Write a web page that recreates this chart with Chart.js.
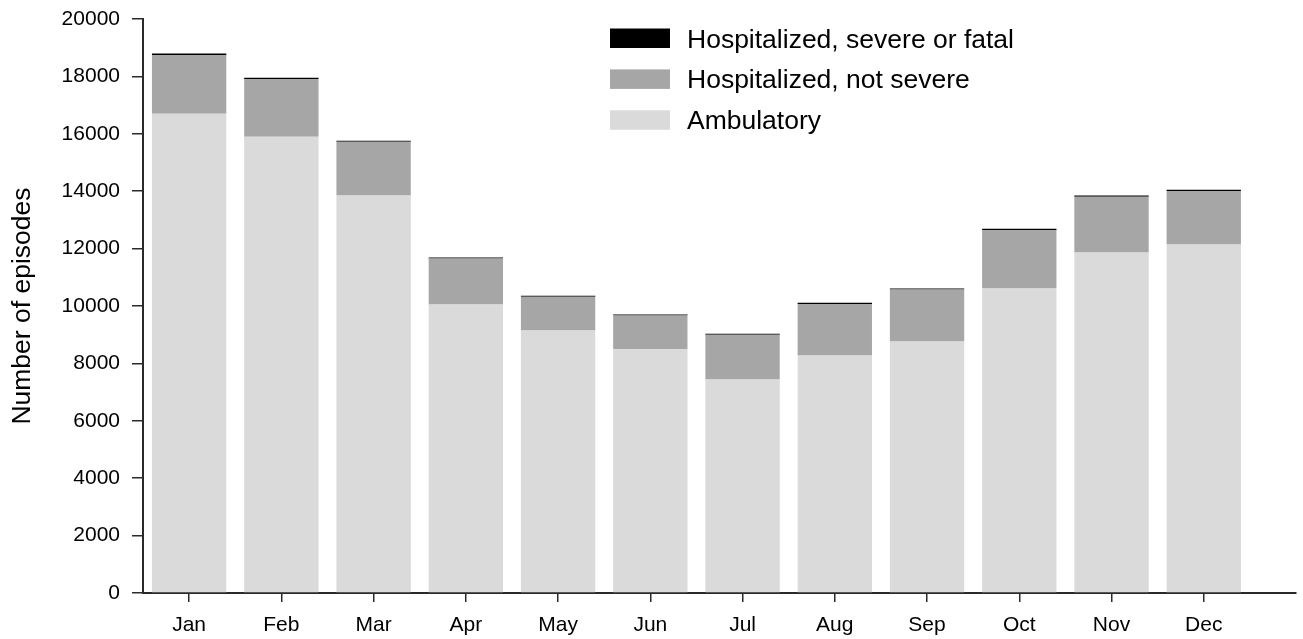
<!DOCTYPE html>
<html>
<head>
<meta charset="utf-8">
<title>Episodes by month</title>
<script src="https://cdn.jsdelivr.net/npm/chart.js@4.4.1/dist/chart.umd.min.js"></script>
<style>
  html, body { margin: 0; padding: 0; background: #fff; }
  #wrap { width: 1303px; height: 639px; }
</style>
</head>
<body>
<div id="wrap"><canvas id="chart" width="1303" height="639"></canvas></div>
<script>
// --- Data ---
const months = ['Jan', 'Feb', 'Mar', 'Apr', 'May', 'Jun', 'Jul', 'Aug', 'Sep', 'Oct', 'Nov', 'Dec'];
const ambulatory    = [16700, 15900, 13850, 10050, 9150, 8490, 7440, 8275, 8765, 10610, 11860, 12140];
const hospNotSevere = [2050, 2010, 1870, 1605, 1170, 1180, 1555, 1795, 1810, 2040, 1950, 1870];
const hospSevere    = [45, 40, 40, 35, 35, 30, 35, 40, 35, 40, 40, 40];
const yTicks = [0, 2000, 4000, 6000, 8000, 10000, 12000, 14000, 16000, 18000, 20000];

const FONT = '"Liberation Sans", Arial, Helvetica, sans-serif';
const AXIS_COLOR = '#2a2a2a';

// turn a plain list into {x, y} points on the linear month axis
function toPoints(values) {
    return values.map((v, i) => ({ x: i, y: v }));
}

// --- Legend drawn inside the plot, top right ---
const boxLegend = {
    id: 'boxLegend',
    afterDraw(chart) {
        const ctx = chart.ctx;
        const items = chart.data.datasets.slice().reverse(); // severe on top
        ctx.save();
        ctx.font = '26.5px ' + FONT;
        ctx.textBaseline = 'alphabetic';
        items.forEach((ds, i) => {
            const cy = 38 + i * 40.9;
            ctx.fillStyle = ds.backgroundColor;
            ctx.fillRect(610, cy - 9.5, 60, 19.5);
            ctx.fillStyle = '#000';
            ctx.fillText(ds.label, 687, cy + 9.5);
        });
        ctx.restore();
    }
};

document.addEventListener('DOMContentLoaded', () => {
    const ctx = document.getElementById('chart').getContext('2d');

    new Chart(ctx, {
        type: 'bar',
        data: {
            datasets: [
                { label: 'Ambulatory', data: toPoints(ambulatory), backgroundColor: '#dadada' },
                { label: 'Hospitalized, not severe', data: toPoints(hospNotSevere), backgroundColor: '#a6a6a6' },
                { label: 'Hospitalized, severe or fatal', data: toPoints(hospSevere), backgroundColor: '#000000' }
            ]
        },
        options: {
            responsive: false,
            animation: false,
            devicePixelRatio: 1,
            layout: { padding: { top: 19, right: 7, left: 0, bottom: 0 } },
            datasets: {
                bar: { categoryPercentage: 0.806, barPercentage: 1, borderWidth: 0 }
            },
            plugins: {
                legend: { display: false },
                tooltip: { enabled: false }
            },
            scales: {
                x: {
                    type: 'linear',
                    stacked: true,
                    offset: false,
                    min: -0.5,
                    max: 12,
                    afterBuildTicks: s => { s.ticks = months.map((m, i) => ({ value: i })); },
                    afterFit: s => { s.height = 46; },
                    border: { display: true, color: AXIS_COLOR, width: 2 },
                    grid: { offset: false, drawOnChartArea: false, drawTicks: true, tickLength: 9, color: AXIS_COLOR, lineWidth: 1.5 },
                    ticks: {
                        padding: 11,
                        color: '#000',
                        font: { family: FONT, size: 21 },
                        maxRotation: 0,
                        autoSkip: false,
                        callback: v => months[v]
                    }
                },
                y: {
                    stacked: true,
                    min: 0,
                    max: 20000,
                    afterBuildTicks: s => { s.ticks = yTicks.map(v => ({ value: v })); },
                    afterFit: s => { s.width = 143; s.paddingTop = 0; s.paddingBottom = 0; },
                    border: { display: true, color: AXIS_COLOR, width: 2 },
                    grid: { drawOnChartArea: false, drawTicks: true, tickLength: 11, color: AXIS_COLOR, lineWidth: 1.5 },
                    ticks: {
                        padding: 12,
                        color: '#000',
                        font: { family: FONT, size: 21 },
                        callback: v => String(v)
                    },
                    title: {
                        display: true,
                        text: 'Number of episodes',
                        color: '#000',
                        font: { family: FONT, size: 26.5 },
                        padding: { top: 7, bottom: 0 }
                    }
                }
            }
        },
        plugins: [boxLegend]
    });
});
</script>
</body>
</html>
